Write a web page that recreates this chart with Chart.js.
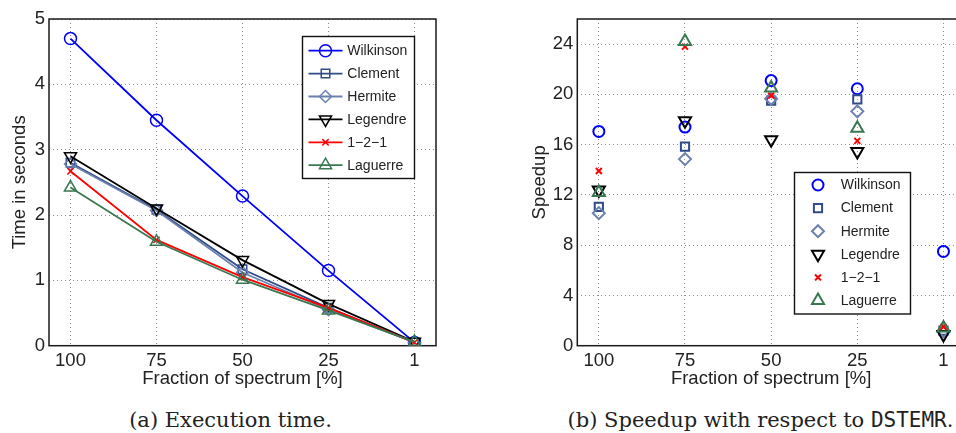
<!DOCTYPE html>
<html>
<head>
<meta charset="utf-8">
<script src="https://cdn.jsdelivr.net/npm/chart.js@4.4.1/dist/chart.umd.min.js"></script>
<style>
html,body{margin:0;padding:0;background:#fff;width:956px;height:433px;overflow:hidden;position:relative}
#ca{position:absolute;left:0;top:0}
#cb{position:absolute;left:520px;top:0}
.cap{position:absolute;top:409px;line-height:22px;font-family:"DejaVu Serif","Liberation Serif",serif;font-size:21px;color:#222;white-space:nowrap;transform:translateX(-50%)}
.mono{font-family:"DejaVu Sans Mono","Liberation Mono",monospace}
</style>
</head>
<body>
<canvas id="ca" width="437" height="390"></canvas>
<canvas id="cb" width="446" height="390"></canvas>
<div class="cap" style="left:230.5px">(a) Execution time.</div>
<div class="cap" style="left:760.5px">(b) Speedup with respect to <span class="mono">DSTEMR</span>.</div>
<script>
// ---------------- data ----------------
const categories = ['100', '75', '50', '25', '1'];
const seriesNames = ['Wilkinson', 'Clement', 'Hermite', 'Legendre', '1\u22122\u22121', 'Laguerre'];

const timeWilkinson = [4.70, 3.45, 2.29, 1.15, 0.05];
const timeClement   = [2.80, 2.08, 1.17, 0.58, 0.05];
const timeHermite   = [2.78, 2.07, 1.12, 0.55, 0.05];
const timeLegendre  = [2.90, 2.10, 1.31, 0.64, 0.06];
const time121       = [2.67, 1.62, 1.05, 0.58, 0.05];
const timeLaguerre  = [2.42, 1.59, 1.01, 0.54, 0.06];

const speedupWilkinson = [17.05, 17.4, 21.1, 20.45, 7.5];
const speedupClement   = [11.05, 15.85, 19.5, 19.6, 1.2];
const speedupHermite   = [10.55, 14.85, 19.65, 18.65, 1.15];
const speedupLegendre  = [12.4, 17.9, 16.4, 15.45, 0.9];
const speedup121       = [13.9, 23.8, 19.9, 16.3, 1.5];
const speedupLaguerre  = [12.2, 24.2, 20.5, 17.3, 1.4];

const timeTicks = [0, 1, 2, 3, 4, 5];
const speedupTicks = [0, 4, 8, 12, 16, 20, 24];

// ---------------- styles ----------------
const seriesColors = ['#0000ff', '#304c88', '#6a80ae', '#000000', '#ff0000', '#3a7852'];
const seriesMarkers = ['circle', 'rect', 'rectRot', 'triangle', 'crossRot', 'triangle'];
const markerRotation = [0, 0, 0, 180, 0, 0];
const leftRadius = [6, 6, 6, 7, 4.5, 7];
const rightRadius = [5.5, 5.8, 6, 7, 4.2, 7];

const FONT = '"Liberation Sans", Arial, Helvetica, sans-serif';
const AX = 18.5;
Chart.defaults.font.family = FONT;
Chart.defaults.color = '#222';

const timeSeries = [timeWilkinson, timeClement, timeHermite, timeLegendre, time121, timeLaguerre];
const speedupSeries = [speedupWilkinson, speedupClement, speedupHermite, speedupLegendre, speedup121, speedupLaguerre];

const toXY = vals => vals.map((v, i) => ({x: i, y: v}));

function boxPlugin() {
  return {
    id: 'axesBox',
    beforeDatasetsDraw(chart) {
      const a = chart.chartArea, ctx = chart.ctx;
      ctx.save();
      ctx.setLineDash([]);
      ctx.strokeStyle = '#1a1a1a';
      ctx.lineWidth = 1.5;
      ctx.strokeRect(a.left, a.top, a.right - a.left, a.bottom - a.top);
      ctx.restore();
    }
  };
}

function drawMarker(ctx, ds, x, y) {
  ctx.strokeStyle = ds.pointBorderColor;
  ctx.fillStyle = 'rgba(0,0,0,0)';
  ctx.lineWidth = ds.pointBorderWidth;
  ctx.setLineDash([]);
  Chart.helpers.drawPoint(ctx, {
    pointStyle: ds.pointStyle, radius: ds.pointRadius,
    rotation: ds.pointRotation || 0, borderWidth: ds.pointBorderWidth
  }, x, y);
}

function legendPlugin(cfg) {
  return {
    id: 'boxLegend',
    afterDraw(chart) {
      const ctx = chart.ctx;
      ctx.save();
      ctx.setLineDash([]);
      ctx.fillStyle = '#fff';
      ctx.fillRect(cfg.x, cfg.y, cfg.w, cfg.h);
      ctx.strokeStyle = '#111';
      ctx.lineWidth = 1.4;
      ctx.strokeRect(cfg.x, cfg.y, cfg.w, cfg.h);
      chart.data.datasets.forEach((ds, i) => {
        const y = cfg.y0 + i * cfg.dy;
        if (cfg.line) {
          ctx.strokeStyle = ds.borderColor;
          ctx.lineWidth = ds.borderWidth;
          ctx.beginPath();
          ctx.moveTo(cfg.lx0, y);
          ctx.lineTo(cfg.lx1, y);
          ctx.stroke();
        }
        drawMarker(ctx, ds, cfg.mx, y);
        ctx.fillStyle = '#222';
        ctx.font = '14px ' + FONT;
        ctx.textBaseline = 'middle';
        ctx.textAlign = 'left';
        ctx.fillText(ds.label, cfg.tx, y + 0.5);
      });
      ctx.restore();
    }
  };
}

function xScale() {
  return {
    type: 'linear', min: -0.25, max: 4.25,
    afterBuildTicks: s => { s.ticks = categories.map((c, i) => ({value: i})); },
    afterFit: s => { s.height = 44.3; s.paddingLeft = 0; s.paddingRight = 0; },
    ticks: {callback: v => categories[v], font: {size: AX}, color: '#222', padding: 4, maxRotation: 0, autoSkip: false},
    grid: {color: 'rgba(0,0,0,0.45)', lineWidth: 1, drawTicks: false},
    border: {display: false, dash: [1, 3]},
    title: {display: true, text: 'Fraction of spectrum [%]', font: {size: AX}, color: '#222', padding: {top: 0, bottom: 0}}
  };
}

function yScale(min, max, ticks, title, width, tpad) {
  return {
    type: 'linear', min: min, max: max,
    afterBuildTicks: s => { s.ticks = ticks.map(v => ({value: v})); },
    afterFit: s => { s.width = width; s.paddingTop = 0; s.paddingBottom = 0; },
    ticks: {font: {size: AX}, color: '#222', padding: 4},
    grid: {color: 'rgba(0,0,0,0.45)', lineWidth: 1, drawTicks: false},
    border: {display: false, dash: [1, 3]},
    title: {display: true, text: title, font: {size: AX}, color: '#222', padding: {top: tpad, bottom: 0}}
  };
}

// ---------------- chart (a) ----------------
new Chart(document.getElementById('ca'), {
  type: 'line',
  data: {
    datasets: timeSeries.map((vals, i) => ({
      label: seriesNames[i],
      data: toXY(vals),
      borderColor: seriesColors[i],
      borderWidth: 1.8,
      pointStyle: seriesMarkers[i],
      pointRotation: markerRotation[i],
      pointRadius: leftRadius[i],
      pointBorderWidth: 1.5,
      pointBorderColor: seriesColors[i],
      pointBackgroundColor: 'rgba(0,0,0,0)',
      tension: 0,
      order: 5 - i
    }))
  },
  options: {
    responsive: false, animation: false,
    layout: {autoPadding: false, padding: {top: 19, right: 1, left: 0, bottom: 0}},
    plugins: {legend: {display: false}, tooltip: {enabled: false}},
    scales: {x: xScale(), y: yScale(0, 5, timeTicks, 'Time in seconds', 49, 8.9)}
  },
  plugins: [boxPlugin(), legendPlugin({x: 302.5, y: 36.5, w: 112, h: 142, y0: 50.7, dy: 22.9, line: true, lx0: 308.5, lx1: 342.5, mx: 325.5, tx: 347.3})]
});

// ---------------- chart (b) ----------------
new Chart(document.getElementById('cb'), {
  type: 'line',
  data: {
    datasets: speedupSeries.map((vals, i) => ({
      label: seriesNames[i],
      data: toXY(vals),
      showLine: false,
      borderColor: seriesColors[i],
      borderWidth: 0,
      pointStyle: seriesMarkers[i],
      pointRotation: markerRotation[i],
      pointRadius: rightRadius[i],
      pointBorderWidth: 2,
      pointBorderColor: seriesColors[i],
      pointBackgroundColor: 'rgba(0,0,0,0)',
      order: 5 - i
    }))
  },
  options: {
    responsive: false, animation: false,
    layout: {autoPadding: false, padding: {top: 19, right: 1, left: 0, bottom: 0}},
    plugins: {legend: {display: false}, tooltip: {enabled: false}},
    scales: {x: xScale(), y: yScale(0, 26, speedupTicks, 'Speedup', 57.3, 8.4)}
  },
  plugins: [boxPlugin(), legendPlugin({x: 274.5, y: 172.5, w: 116, h: 141.5, y0: 185, dy: 23.1, line: false, mx: 298, tx: 320.7})]
});
</script>
</body>
</html>
